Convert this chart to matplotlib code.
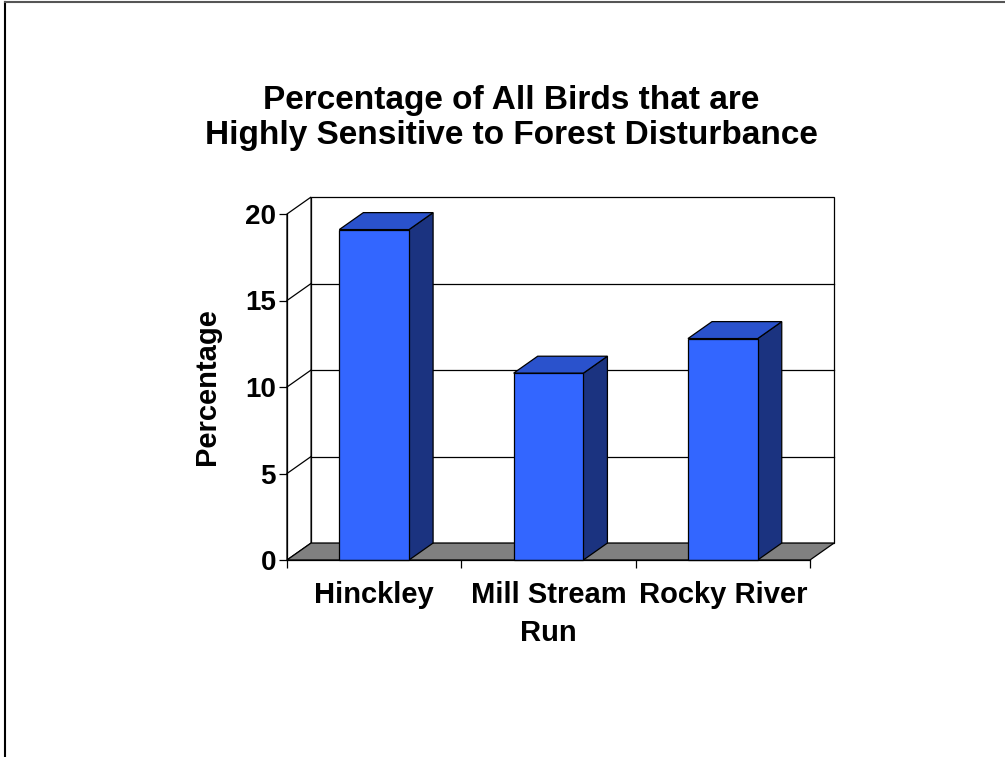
import matplotlib
matplotlib.use("Agg")
import matplotlib.pyplot as plt
from matplotlib.patches import Polygon
from matplotlib.lines import Line2D

# Data
sites = ["Hinckley", "Mill Stream\nRun", "Rocky River"]
percent_sensitive = [19.1, 10.8, 12.8]
y_ticks = [0, 5, 10, 15, 20]

# Styling
FONT = "Liberation Sans"
FRONT = "#3366FF"
TOP = "#2A52CC"
SIDE = "#1B3380"
FLOOR = "#808080"
BAR_W = 0.4
DX, DY = 0.138, 0.98   # depth offset of the 3-D walls, in data units

fig = plt.figure(figsize=(10.05, 7.57), dpi=100)
ax = fig.add_axes([287 / 1005, 197 / 757, 523 / 1005, 346 / 757])
ax.set_xlim(0, len(sites))
ax.set_ylim(0, 20)
for s in ax.spines.values():
    s.set_visible(False)
ax.patch.set_visible(False)

n = len(sites)
ymax = y_ticks[-1]

def poly(pts, fc, ec="black", lw=0.9, z=1):
    p = Polygon(pts, closed=True, facecolor=fc, edgecolor=ec, linewidth=lw,
                clip_on=False, zorder=z, joinstyle="miter")
    ax.add_patch(p)

# Back wall and side wall
poly([(DX, DY), (n + DX, DY), (n + DX, ymax + DY), (DX, ymax + DY)], "white", z=1)
poly([(0, 0), (DX, DY), (DX, ymax + DY), (0, ymax)], "white", z=1)

# Gridlines on both walls
for v in y_ticks[1:-1]:
    ax.add_line(Line2D([DX, n + DX], [v + DY, v + DY], color="black", lw=0.9,
                       clip_on=False, zorder=2))
    ax.add_line(Line2D([0, DX], [v, v + DY], color="black", lw=0.9,
                       clip_on=False, zorder=2))

# Floor
poly([(0, 0), (n, 0), (n + DX, DY), (DX, DY)], FLOOR, z=3)

# Bars
for i, v in enumerate(percent_sensitive):
    c = i + 0.5
    x0, x1 = c - BAR_W / 2, c + BAR_W / 2
    poly([(x1, 0), (x1 + DX, DY), (x1 + DX, v + DY), (x1, v)], SIDE, z=4)
    poly([(x0, v), (x1, v), (x1 + DX, v + DY), (x0 + DX, v + DY)], TOP, z=4)
    poly([(x0, 0), (x1, 0), (x1, v), (x0, v)], FRONT, z=5)

# Axes lines
ax.add_line(Line2D([0, 0], [0, ymax], color="black", lw=0.9, clip_on=False, zorder=6))
ax.add_line(Line2D([0, n], [0, 0], color="black", lw=0.9, clip_on=False, zorder=6))

ax.set_yticks(y_ticks)
ax.set_yticklabels([str(t) for t in y_ticks], fontsize=20, fontweight="bold",
                   fontfamily=FONT)
ax.set_xticks(range(n + 1))
ax.set_xticklabels([])
ax.tick_params(axis="both", direction="out", length=6, width=0.9, color="black")
ax.tick_params(axis="y", pad=2)
for i, name in enumerate(sites):
    ax.text(i + 0.5, -1.2, name, ha="center", va="top", fontsize=21,
            fontweight="bold", fontfamily=FONT, linespacing=1.45)

ax.set_ylabel("Percentage", fontsize=21, fontweight="bold", fontfamily=FONT,
              labelpad=17)

fig.text(511 / 1005, 1 - 118 / 757,
         "Percentage of All Birds that are\nHighly Sensitive to Forest Disturbance",
         ha="center", va="center", fontsize=24, fontweight="bold",
         fontfamily=FONT, linespacing=1.17)

# Page frame
fig.add_artist(Line2D([5 / 1005, 5 / 1005], [0, 1 - 2 / 757], color="black", lw=1.5,
                      transform=fig.transFigure))
fig.add_artist(Line2D([5 / 1005, 1], [1 - 2 / 757, 1 - 2 / 757], color="#555555",
                      lw=1.5, transform=fig.transFigure))

fig.savefig("out.png", dpi=100)
